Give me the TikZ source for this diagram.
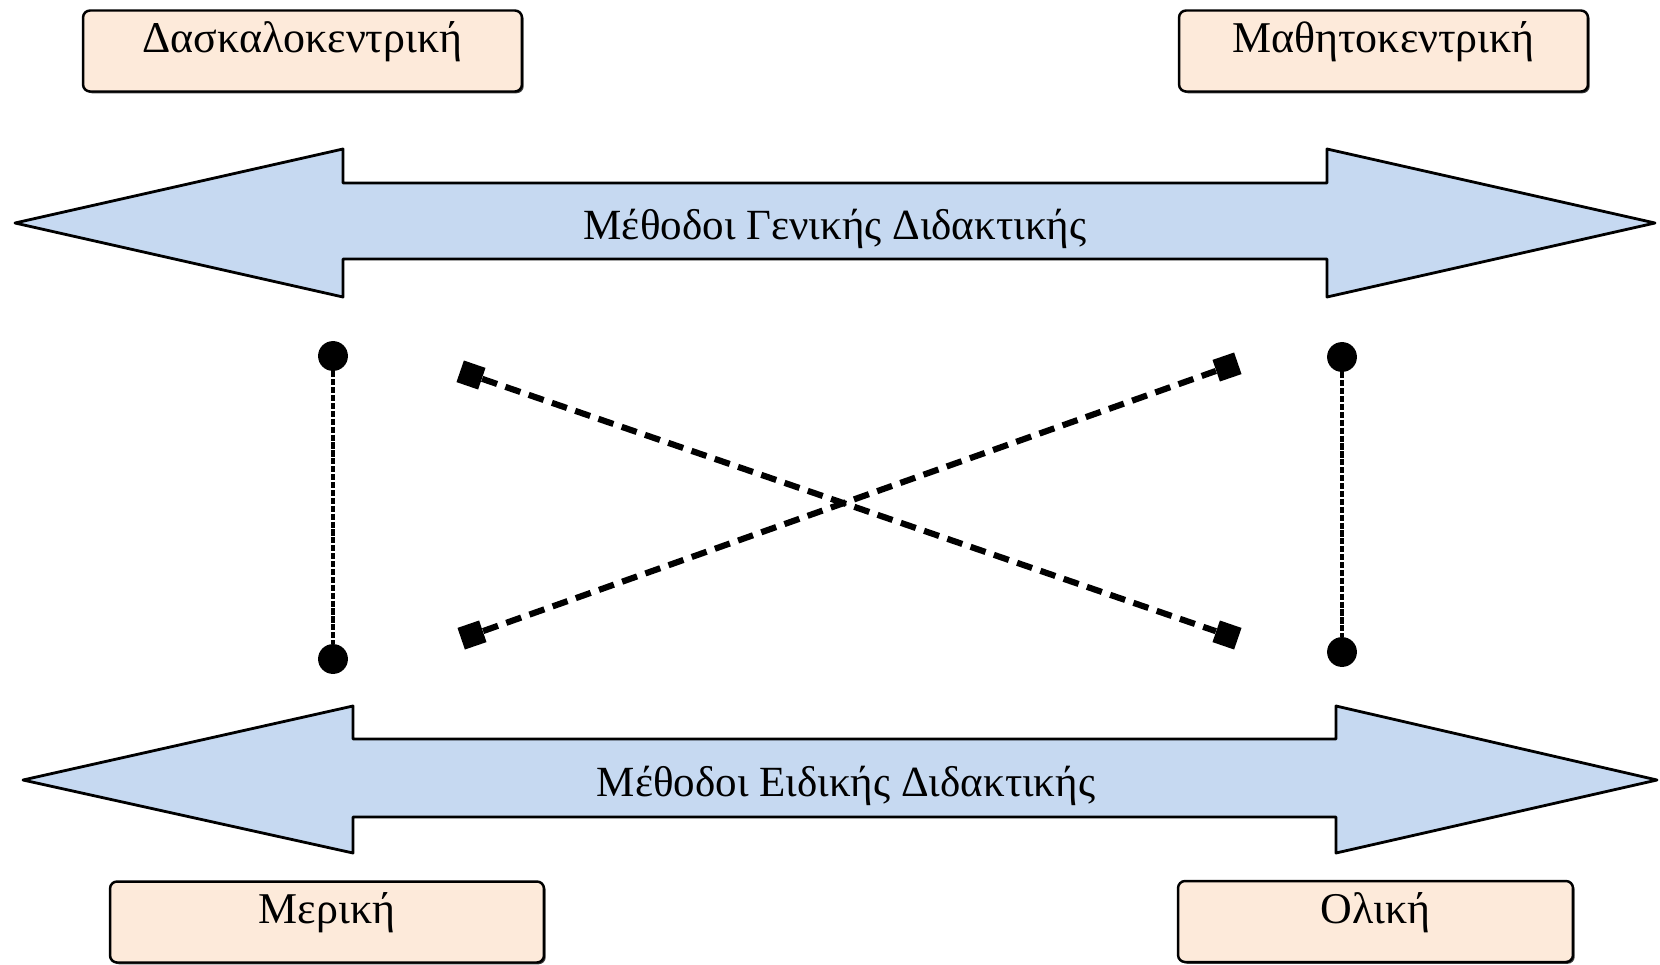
\documentclass[tikz,border=0pt]{standalone}
\usepackage{fontspec}
\setmainfont{Liberation Serif}
\usetikzlibrary{shadows}
\definecolor{peach}{HTML}{FDEADA}
\definecolor{arrowblue}{HTML}{C6D9F1}

\begin{document}
\begin{tikzpicture}[x=0.02cm, y=-0.02cm,
    catbox/.style={draw=black, line width=1.4pt, rounded corners=4pt, fill=peach,
      minimum height=1.62cm, text height=14pt, text depth=12pt, inner sep=0pt,
      font=\fontsize{25}{29}\selectfont,
      drop shadow={shadow xshift=1pt, shadow yshift=-1pt, fill=black!75, opacity=1}},
    bigarrow/.style={draw=black, line width=1.6pt, line join=round, fill=arrowblue},
    arrowtext/.style={anchor=base, font=\fontsize{24.5}{28}\selectfont},
    enddot/.style={circle, fill=black, minimum size=17pt, inner sep=0pt},
    enddiamond/.style={rectangle, fill=black, minimum size=13pt, inner sep=0pt},
    thinlink/.style={line width=2pt, dash pattern=on 3.5pt off 1pt},
    crosslink/.style={line width=3.5pt, dash pattern=on 9pt off 5pt}]
    \useasboundingbox (0,0) rectangle (1660,964);

    \node[catbox, minimum width=8.78cm] (teacher) at (302.5,51) {Δασκαλοκεντρική};
    \node[catbox, minimum width=8.18cm] (student) at (1383.5,51) {Μαθητοκεντρική};
    \node[catbox, minimum width=8.68cm] (partial) at (327,922) {Μερική};
    \node[catbox, minimum width=7.90cm] (holistic) at (1375.5,921.5) {Ολική};

    \draw[bigarrow] (15,223) -- (343,149) -- (343,183) -- (1327,183) -- (1327,149) -- (1655,223)
        -- (1327,297) -- (1327,259) -- (343,259) -- (343,297) -- cycle;
    \draw[bigarrow] (23,780) -- (353,706) -- (353,739) -- (1336,739) -- (1336,706) -- (1657,780)
        -- (1336,853) -- (1336,817) -- (353,817) -- (353,853) -- cycle;
    \node[arrowtext] (general) at (835,239) {Μέθοδοι Γενικής Διδακτικής};
    \node[arrowtext] (special) at (846,796) {Μέθοδοι Ειδικής Διδακτικής};

    \node[enddot] (lefttop) at (333,356) {};
    \node[enddot] (leftbot) at (333,659) {};
    \node[enddot] (righttop) at (1342,357) {};
    \node[enddot] (rightbot) at (1342,652) {};
    \draw[thinlink] (lefttop) -- (leftbot);
    \draw[thinlink] (righttop) -- (rightbot);

    \node[enddiamond, rotate=-19] (crossa) at (471,375) {};
    \node[enddiamond, rotate=-19] (crossb) at (1227,635) {};
    \node[enddiamond, rotate=19] (crossc) at (472,635) {};
    \node[enddiamond, rotate=19] (crossd) at (1227,367) {};
    \draw[crosslink] (crossa) -- (crossb);
    \draw[crosslink] (crossc) -- (crossd);
\end{tikzpicture}
\end{document}
